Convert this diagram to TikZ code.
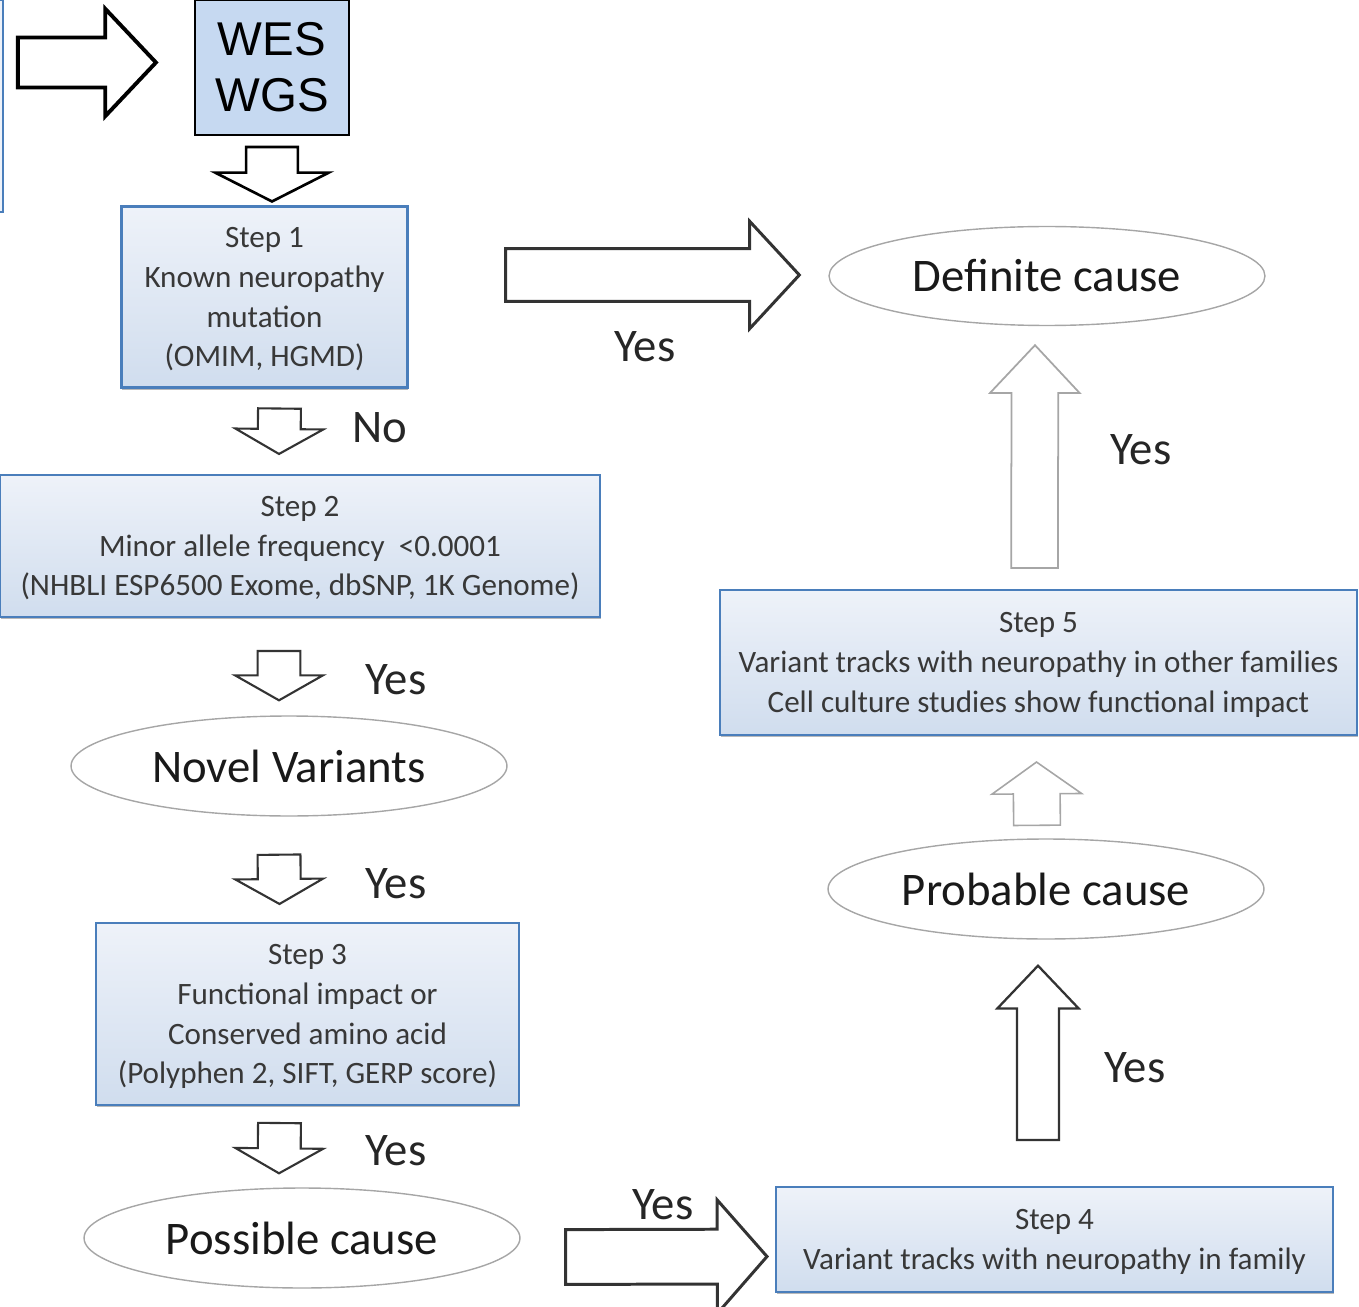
\documentclass[tikz,border=0pt]{standalone}
\usepackage{fontspec}
\setmainfont{Carlito}
\newfontfamily\arialfont{Liberation Sans}
\usetikzlibrary{calc,shapes.geometric,shadows}

\definecolor{boxblue}{HTML}{4A7EBB}
\definecolor{boxtop}{HTML}{EEF2F9}
\definecolor{boxbot}{HTML}{D0DDEE}
\definecolor{wesfill}{HTML}{C6D9F1}
\definecolor{ringgray}{HTML}{A6A6A6}
\definecolor{txtgray}{HTML}{383838}

% block arrow from #2 to #3: shaft half width, head half width, head length
\newcommand{\fatarrow}[6][]{%
  \draw[blockarrow,#1] let \p1=#2, \p2=#3, \n1={atan2(\y2-\y1,\x2-\x1)}, \n2={veclen(\x2-\x1,\y2-\y1)} in
    [shift={(\p1)}, rotate=\n1]
    (0pt,-#4) -- ({\n2-#6},-#4) -- ({\n2-#6},-#5) -- (\n2,0pt) -- ({\n2-#6},#5) -- ({\n2-#6},#4) -- (0pt,#4) -- cycle;}

\begin{document}
\begin{tikzpicture}[x=0.02cm,y=-0.02cm]
		\tikzset{stepbox/.style={rectangle, draw=boxblue, line width=1.2pt, top color=boxtop, bottom color=boxbot, align=center, text=txtgray, inner sep=0pt, text depth=0pt, font=\fontsize{17.7}{22.7}\selectfont, drop shadow={shadow xshift=0.5pt, shadow yshift=-1.2pt, fill=black!55}},
			cause/.style={ellipse, draw=ringgray, line width=0.8pt, inner sep=0pt, minimum width=8.72cm, minimum height=2cm, text=black!90, font=\fontsize{26.6}{30}\selectfont},
			answer/.style={text=black!85, font=\fontsize{26.6}{30}\selectfont},
			blockarrow/.style={draw=black!80, line width=1.2pt, fill=white, line join=miter}};
		\useasboundingbox (0,0) rectangle (1359,1307);
		\node[rectangle, draw=boxblue, fill=boxtop, line width=1pt, minimum width=1.32cm, minimum height=4.24cm] (src) at (-30,106) {};
		\node[rectangle, draw=black, line width=1.2pt, fill=wesfill, align=center, inner sep=0pt, minimum width=3.08cm, minimum height=2.7cm, font=\arialfont\fontsize{27}{31.7}\selectfont] (wes) at (272,67.5) {WES\\WGS};
		\node[stepbox, minimum width=5.72cm, minimum height=3.62cm] (s1) at (264.5,297) {Step 1\\Known neuropathy\\mutation\\(OMIM, HGMD)};
		\node[stepbox, minimum width=12cm, minimum height=2.84cm] (s2) at (300,546) {Step 2\\Minor allele frequency~~<0.0001\\(NHBLI ESP6500 Exome, dbSNP, 1K Genome)};
		\node[cause] (novel) at (289,766) {Novel Variants};
		\node[stepbox, minimum width=8.46cm, minimum height=3.64cm] (s3) at (307.5,1014) {Step 3\\Functional impact or\\Conserved amino acid\\(Polyphen 2, SIFT, GERP score)};
		\node[cause] (poss) at (302,1238) {Possible cause};
		\node[stepbox, minimum width=11.14cm, minimum height=2.1cm] (s4) at (1054.5,1239.5) {Step 4\\Variant tracks with neuropathy in family};
		\node[cause] (prob) at (1046,889) {Probable cause};
		\node[stepbox, minimum width=12.74cm, minimum height=2.9cm] (s5) at (1038.5,662.5) {Step 5\\Variant tracks with neuropathy in other families\\Cell culture studies show functional impact};
		\node[cause, minimum height=1.98cm] (def) at (1047,276) {Definite cause};
		\fatarrow[draw=black, line width=2.2pt]{($(src.east |- wes.west)+(14,-5)$)}{($(wes.west)+(-38,-5)$)}{14.2pt}{30.6pt}{28.9pt}
		\fatarrow[draw=black, line width=1.5pt]{($(wes.south)+(0,11)$)}{($(wes.south |- s1.north)+(0,-4)$)}{14.7pt}{32.3pt}{16.4pt}
		\fatarrow[line width=1.7pt]{($(s1.east)+(97,-22)$)}{($(def.west)+(-29,-1)$)}{15pt}{30.6pt}{28.3pt}
		\fatarrow{($(s1.south)+(15,20)$)}{($(s2.north)+(-21,-20)$)}{12.2pt}{25pt}{14.2pt}
		\fatarrow{($(s2.south)+(-21,33)$)}{($(novel.north)+(-10,-15)$)}{12.2pt}{25pt}{14.2pt}
		\fatarrow{($(novel.south)+(-10,38)$)}{($(s3.north)+(-28,-18)$)}{12.2pt}{25pt}{14.2pt}
		\fatarrow{($(s3.south)+(-28,17)$)}{($(poss.north)+(-23,-14)$)}{12.2pt}{25pt}{14.2pt}
		\fatarrow[line width=1.7pt]{($(poss.east)+(45,19)$)}{($(s4.west)+(-8,17)$)}{15.6pt}{32.3pt}{28.3pt}
		\fatarrow[line width=1.3pt]{($(s4.north)+(-16.5,-46)$)}{($(prob.south)+(-8,26)$)}{11.9pt}{23.2pt}{24.4pt}
		\fatarrow[draw=ringgray, line width=0.9pt]{($(prob.north)+(-9,-13)$)}{($(s5.south)+(-2,26)$)}{13.3pt}{25.5pt}{18.1pt}
		\fatarrow[draw=ringgray, line width=1pt]{($(s5.north)+(-4,-21)$)}{($(def.south)+(-12,19)$)}{13.3pt}{25.5pt}{27.2pt}
		\node[answer] (no1) at (380,428) {No};
		\node[answer] (yes1) at (396,680) {Yes};
		\node[answer] (yes2) at (396,884) {Yes};
		\node[answer] (yes3) at (396,1151) {Yes};
		\node[answer] (yes4) at (663,1205) {Yes};
		\node[answer] (yes5) at (645,347) {Yes};
		\node[answer] (yes6) at (1141,450) {Yes};
		\node[answer] (yes7) at (1135,1068) {Yes};
	\end{tikzpicture}
\end{document}
